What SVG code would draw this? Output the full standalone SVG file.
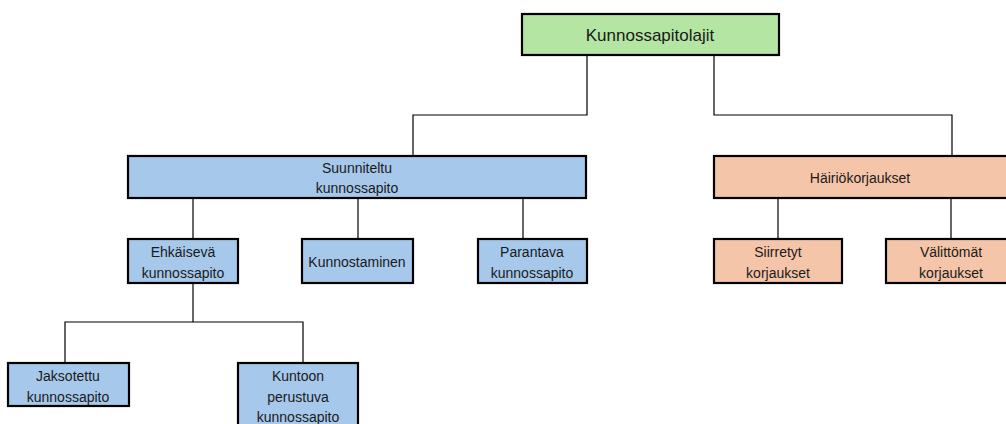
<svg xmlns="http://www.w3.org/2000/svg" width="1006" height="424" viewBox="0 0 1006 424">
  <style>
    .box { stroke: #000; stroke-width: 2.2; }
    .green { fill: #B4E5A2; }
    .blue { fill: #A6C8EA; }
    .orange { fill: #F5C5A9; }
    text { font-family: "Liberation Sans", Arial, sans-serif; font-size: 14px; fill: #1a1a1a; text-anchor: middle; }
    .big { font-size: 17px; }
    .wire { fill: none; stroke: #000; stroke-width: 1.2; }
  </style>

  <!-- connectors -->
  <g id="connectors">
    <polyline class="wire" points="587,55 587,115 413,115 413,156"/>
    <polyline class="wire" points="714,55 714,115 952,115 952,156"/>
    <line class="wire" x1="193" y1="198" x2="193" y2="239"/>
    <line class="wire" x1="358" y1="198" x2="358" y2="239"/>
    <line class="wire" x1="523" y1="198" x2="523" y2="239"/>
    <line class="wire" x1="778" y1="198" x2="778" y2="239"/>
    <line class="wire" x1="951" y1="198" x2="951" y2="239"/>
    <polyline class="wire" points="193,283 193,322"/>
    <polyline class="wire" points="65,363 65,322 303,322 303,363"/>
  </g>

  <g id="kunnossapitolajit">
    <rect class="box green" x="522" y="14" width="257" height="41"/>
    <text class="big" x="650" y="41">Kunnossapitolajit</text>
  </g>

  <g id="suunniteltu">
    <rect class="box blue" x="128" y="156" width="458" height="42"/>
    <text x="357" y="173">Suunniteltu</text>
    <text x="357" y="193">kunnossapito</text>
  </g>

  <g id="hairiokorjaukset">
    <rect class="box orange" x="714" y="156" width="300" height="42"/>
    <text x="860" y="183">Häiriökorjaukset</text>
  </g>

  <g id="ehkaiseva">
    <rect class="box blue" x="128" y="239" width="110" height="44"/>
    <text x="183" y="257">Ehkäisevä</text>
    <text x="183" y="278">kunnossapito</text>
  </g>

  <g id="kunnostaminen">
    <rect class="box blue" x="302" y="239" width="111" height="44"/>
    <text x="357" y="267">Kunnostaminen</text>
  </g>

  <g id="parantava">
    <rect class="box blue" x="478" y="239" width="109" height="44"/>
    <text x="532" y="257">Parantava</text>
    <text x="532" y="278">kunnossapito</text>
  </g>

  <g id="siirretyt">
    <rect class="box orange" x="714" y="239" width="128" height="44"/>
    <text x="778" y="257">Siirretyt</text>
    <text x="778" y="278">korjaukset</text>
  </g>

  <g id="valittomat">
    <rect class="box orange" x="886" y="239" width="130" height="44"/>
    <text x="951" y="257">Välittömät</text>
    <text x="951" y="278">korjaukset</text>
  </g>

  <g id="jaksotettu">
    <rect class="box blue" x="8" y="363" width="121" height="43"/>
    <text x="68" y="381">Jaksotettu</text>
    <text x="68" y="402">kunnossapito</text>
  </g>

  <g id="kuntoon-perustuva">
    <rect class="box blue" x="238" y="363" width="120" height="70"/>
    <text x="298" y="381">Kuntoon</text>
    <text x="298" y="402">perustuva</text>
    <text x="298" y="422">kunnossapito</text>
  </g>
</svg>
